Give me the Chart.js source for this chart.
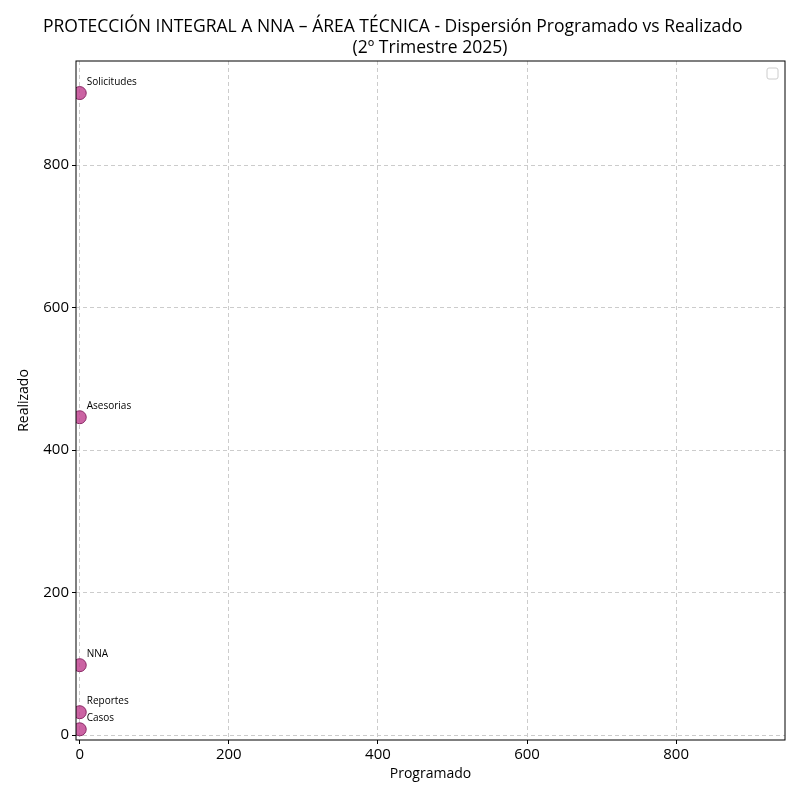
<!DOCTYPE html>
<html><head><meta charset="utf-8">
<script src="https://cdn.jsdelivr.net/npm/chart.js@4/dist/chart.umd.min.js"></script>
<style>body{margin:0;background:#fff}</style>
</head><body>
<canvas id="c" width="800" height="800"></canvas>
<script>
const labels = ['Solicitudes', 'Asesorias', 'NNA', 'Reportes', 'Casos'];
const programado = [0, 0, 0, 0, 0];
const realizado = [901, 446, 98, 32, 8];
const ticks = [0, 200, 400, 600, 800];

const FONT = '"Open Sans", Inter, sans-serif';

const overlay = {
  id: 'overlay',
  afterDraw(chart) {
    const ctx = chart.ctx;
    ctx.save();
    ctx.fillStyle = '#000';
    ctx.font = '17.5px ' + FONT;
    ctx.textBaseline = 'alphabetic';
    ctx.textAlign = 'left';
    ctx.fillText('PROTECCIÓN INTEGRAL A NNA – ÁREA TÉCNICA - Dispersión Programado vs Realizado', 43, 32);
    ctx.textAlign = 'center';
    ctx.fillText('(2º Trimestre 2025)', 430, 53);
    const meta = chart.getDatasetMeta(0);
    ctx.font = '10px ' + FONT;
    ctx.textAlign = 'left';
    meta.data.forEach((p, i) => ctx.fillText(labels[i], p.x + 7, p.y - 8));
    const a = chart.chartArea;
    ctx.strokeStyle = '#ccc';
    ctx.lineWidth = 1;
    ctx.beginPath();
    ctx.roundRect(a.right - 18, a.top + 7, 11, 11, 2);
    ctx.stroke();
    ctx.strokeStyle = '#000';
    ctx.strokeRect(a.left, a.top, a.right - a.left, a.bottom - a.top);
    ctx.restore();
  }
};

new Chart(document.getElementById('c'), {
  type: 'scatter',
  data: {
    datasets: [{
      data: programado.map((x, i) => ({x: x, y: realizado[i]})),
      backgroundColor: 'rgba(190,60,140,0.8)',
      borderColor: '#8a2a66',
      borderWidth: 1,
      pointRadius: 6.5
    }]
  },
  options: {
    responsive: false,
    animation: false,
    layout: {padding: {top: 61, right: 15, left: 12, bottom: 14}},
    plugins: {legend: {display: false}, tooltip: {enabled: false}},
    scales: {
      x: {
        min: -5, max: 946,
        afterFit: s => { s.height = 46; },
        afterBuildTicks: s => { s.ticks = ticks.map(v => ({value: v})); },
        grid: {color: '#ccc', tickColor: '#000', tickLength: 4},
        border: {display: false, dash: [4, 3]},
        ticks: {color: '#000', padding: 2, font: {family: FONT, size: 15}},
        title: {display: true, text: 'Programado', color: '#000', padding: {top: 2}, font: {family: FONT, size: 14}}
      },
      y: {
        min: -7, max: 946,
        afterFit: s => { s.width = 64; },
        afterBuildTicks: s => { s.ticks = ticks.map(v => ({value: v})); },
        grid: {color: '#ccc', tickColor: '#000', tickLength: 4},
        border: {display: false, dash: [4, 3]},
        ticks: {color: '#000', padding: 3, font: {family: FONT, size: 15}},
        title: {display: true, text: 'Realizado', color: '#000', padding: {bottom: 2}, font: {family: FONT, size: 14}}
      }
    }
  },
  plugins: [overlay]
});
</script>
</body></html>
